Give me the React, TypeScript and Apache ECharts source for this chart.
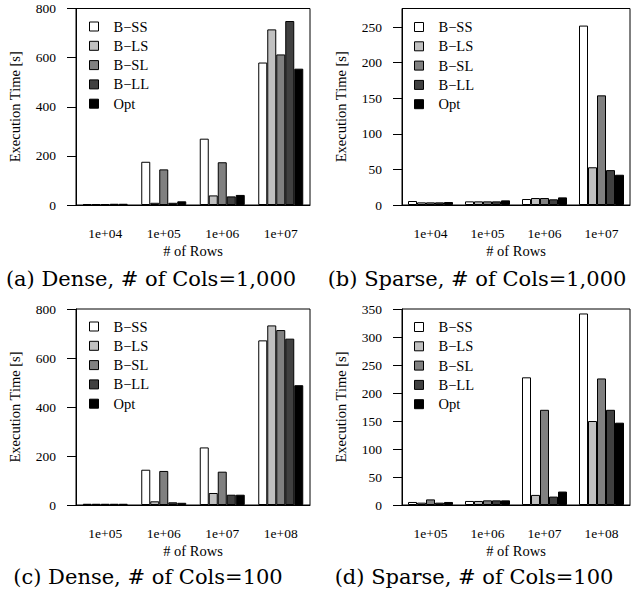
import React, { useEffect, useRef } from "react";
import * as echarts from "echarts";

// Series (legend) names and fills
const seriesNames = ["B\u2212SS", "B\u2212LS", "B\u2212SL", "B\u2212LL", "Opt"];
const seriesFills = ["#ffffff", "#c0c0c0", "#808080", "#404040", "#000000"];

// Category labels (# of Rows)
const rowsCols1000 = ["1e+04", "1e+05", "1e+06", "1e+07"];
const rowsCols100 = ["1e+05", "1e+06", "1e+07", "1e+08"];

// (a) Dense, # of Cols=1,000 — one row per series (B-SS, B-LS, B-SL, B-LL, Opt)
const denseCols1000 = [
  [4, 176, 270, 580],
  [4, 9, 39, 715],
  [4, 145, 174, 613],
  [5, 9, 35, 749],
  [5, 15, 41, 555],
];

// (b) Sparse, # of Cols=1,000
const sparseCols1000 = [
  [5.6, 5.1, 8.4, 252],
  [3.7, 5.1, 9.8, 53],
  [3.7, 5.1, 9.8, 154],
  [3.7, 5.1, 8, 49],
  [4.2, 6.5, 10.7, 42.5],
];

// (c) Dense, # of Cols=100
const denseCols100 = [
  [5, 144, 235, 672],
  [5, 15, 49, 733],
  [5, 139, 136, 714],
  [5, 11, 42, 679],
  [5, 9, 42, 489],
];

// (d) Sparse, # of Cols=100
const sparseCols100 = [
  [5.4, 7.2, 228, 342],
  [4.2, 7.2, 18, 150],
  [10, 8.3, 170, 226],
  [4.2, 8.3, 15, 170],
  [5.4, 8.3, 24, 147],
];

// Axis ranges per panel
const yMax = [800, 276, 800, 350];
const yInterval = [200, 50, 200, 50];

const captions = [
  "(a) Dense, # of Cols=1,000",
  "(b) Sparse, # of Cols=1,000",
  "(c) Dense, # of Cols=100",
  "(d) Sparse, # of Cols=100",
];

const SERIF = "'Liberation Serif', 'Times New Roman', Times, serif";

export default function App() {
  const ref = useRef<HTMLDivElement>(null);

  useEffect(() => {
    if (!ref.current) return;
    const chart = echarts.init(ref.current, undefined, { renderer: "svg" });

    const panelData = [denseCols1000, sparseCols1000, denseCols100, sparseCols100];
    const panelCats = [rowsCols1000, rowsCols1000, rowsCols100, rowsCols100];
    const grids = [
      { left: 76, top: 8.5, width: 234, height: 196.5 },
      { left: 402, top: 8.5, width: 228, height: 196.5 },
      { left: 76, top: 309, width: 234, height: 196 },
      { left: 402, top: 309, width: 228, height: 196 },
    ];
    const legendPos = [
      { left: 89, top: 19 },
      { left: 414, top: 19.5 },
      { left: 89, top: 319 },
      { left: 414, top: 319.5 },
    ];
    const captionPos = [
      { x: 151, y: 279 },
      { x: 477, y: 279 },
      { x: 148, y: 577 },
      { x: 474, y: 577 },
    ];

    const option: any = {
      animation: false,
      backgroundColor: "#ffffff",
      grid: grids.map((g) => ({
        ...g,
        show: true,
        borderColor: "#000",
        borderWidth: 1,
        backgroundColor: "transparent",
        containLabel: false,
      })),
      xAxis: panelCats.map((cats, i) => ({
        type: "category",
        gridIndex: i,
        data: cats,
        axisLine: { show: true, lineStyle: { color: "#000", width: 1 } },
        axisTick: { show: false },
        axisLabel: {
          color: "#000",
          fontFamily: SERIF,
          fontSize: 13.5,
          margin: 21,
        },
        name: "# of Rows",
        nameLocation: "middle",
        nameGap: 38,
        nameTextStyle: { color: "#000", fontFamily: SERIF, fontSize: 14.5 },
      })),
      yAxis: panelCats.map((_, i) => ({
        type: "value",
        gridIndex: i,
        min: 0,
        max: yMax[i],
        interval: yInterval[i],
        splitLine: { show: false },
        axisLine: { show: true, lineStyle: { color: "#000", width: 1 } },
        axisTick: { show: true, length: 9, lineStyle: { color: "#000" } },
        axisLabel: {
          color: "#000",
          fontFamily: SERIF,
          fontSize: 13.5,
          margin: 20,
          showMaxLabel: i === 1 ? false : true,
        },
        name: "Execution Time [s]",
        nameLocation: "middle",
        nameGap: 54,
        nameTextStyle: { color: "#000", fontFamily: SERIF, fontSize: 14.5 },
      })),
      legend: legendPos.map((p) => ({
        ...p,
        orient: "vertical",
        padding: 0,
        icon: "rect",
        itemWidth: 9,
        itemHeight: 9,
        itemGap: 4.3,
        selectedMode: false,
        itemStyle: { borderColor: "#000", borderWidth: 1 },
        textStyle: {
          color: "#000",
          fontFamily: SERIF,
          fontSize: 14.5,
          lineHeight: 14,
          padding: [0, 0, 0, 10],
        },
        data: seriesNames,
      })),
      series: panelData.flatMap((rows, p) =>
        rows.map((vals, s) => ({
          type: "bar",
          name: seriesNames[s],
          xAxisIndex: p,
          yAxisIndex: p,
          data: vals,
          barWidth: 9,
          barGap: "0%",
          itemStyle: {
            color: seriesFills[s],
            borderColor: "#000",
            borderWidth: 1,
          },
          emphasis: { disabled: true },
        }))
      ),
      graphic: captions.map((t, i) => ({
        type: "text",
        x: captionPos[i].x,
        y: captionPos[i].y,
        style: {
          text: t,
          fill: "#000",
          font: "21px 'DejaVu Serif'",
          align: "center",
          verticalAlign: "middle",
        },
      })),
    };

    chart.setOption(option);
    return () => chart.dispose();
  }, []);

  return (
    <div
      ref={ref}
      style={{ position: "fixed", left: 0, top: 0, width: 631, height: 595, background: "#fff" }}
    />
  );
}
